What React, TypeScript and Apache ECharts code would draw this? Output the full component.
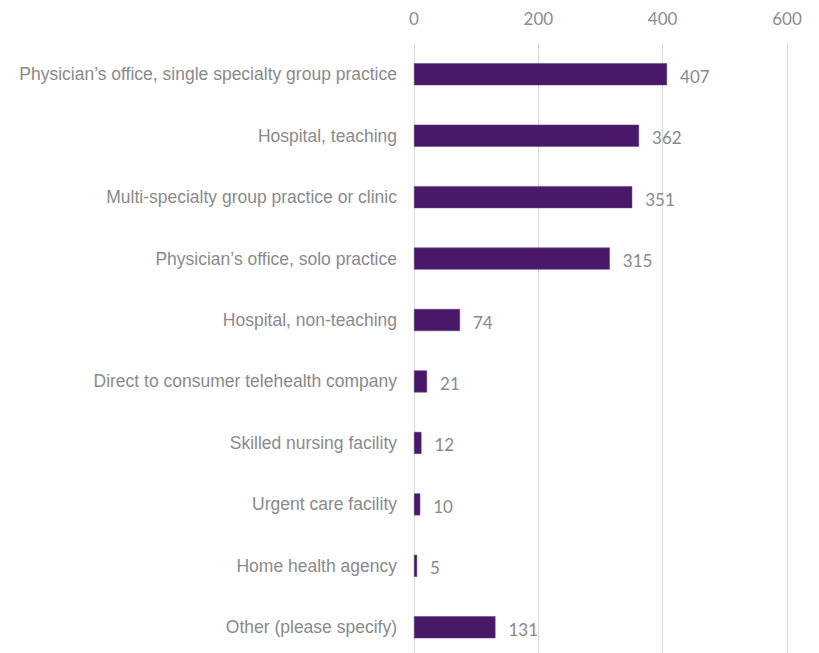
import React, { useEffect, useRef } from "react";
import * as echarts from "echarts";

const categories = [
  "Physician’s office, single specialty group practice",
  "Hospital, teaching",
  "Multi-specialty group practice or clinic",
  "Physician’s office, solo practice",
  "Hospital, non-teaching",
  "Direct to consumer telehealth company",
  "Skilled nursing facility",
  "Urgent care facility",
  "Home health agency",
  "Other (please specify)",
];
const values = [407, 362, 351, 315, 74, 21, 12, 10, 5, 131];
const xTicks = [0, 200, 400, 600];

export default function App() {
  const ref = useRef<HTMLDivElement>(null);
  useEffect(() => {
    document.body.style.margin = "0";
    document.body.style.overflow = "hidden";
    const chart = echarts.init(ref.current!, null, { renderer: "svg" });
    chart.setOption({
      animation: false,
      grid: { left: 414, right: 32, top: 43.5, bottom: 0, containLabel: false },
      xAxis: {
        type: "value",
        position: "top",
        min: xTicks[0],
        max: xTicks[xTicks.length - 1],
        interval: 200,
        axisLine: { show: false },
        axisTick: { show: false },
        splitLine: { show: true, lineStyle: { color: "#D9D9D9", width: 1 } },
        axisLabel: {
          color: "#8C8C8C",
          fontFamily: "Lato, 'Open Sans', sans-serif",
          fontSize: 17,
          margin: 17,
        },
      },
      yAxis: {
        type: "category",
        inverse: true,
        data: categories,
        axisLine: { show: false },
        axisTick: { show: false },
        axisLabel: {
          color: "#8A8A8A",
          fontFamily: "'Liberation Sans', Arial, sans-serif",
          fontSize: 17.5,
          margin: 17,
        },
      },
      series: [
        {
          type: "bar",
          data: values,
          barWidth: 22,
          itemStyle: { color: "#4A1868", borderColor: "#5E3A7A", borderWidth: 0.5 },
          label: {
            show: true,
            position: "right",
            distance: 13,
            color: "#8A8A8A",
            fontFamily: "Lato, 'Open Sans', sans-serif",
            fontSize: 17,
            offset: [0, 2],
          },
        },
      ],
    });
    return () => chart.dispose();
  }, []);
  return (
    <div style={{ width: 819, height: 653, overflow: "hidden" }}>
      <div ref={ref} style={{ width: 819, height: 657.5 }} />
    </div>
  );
}
